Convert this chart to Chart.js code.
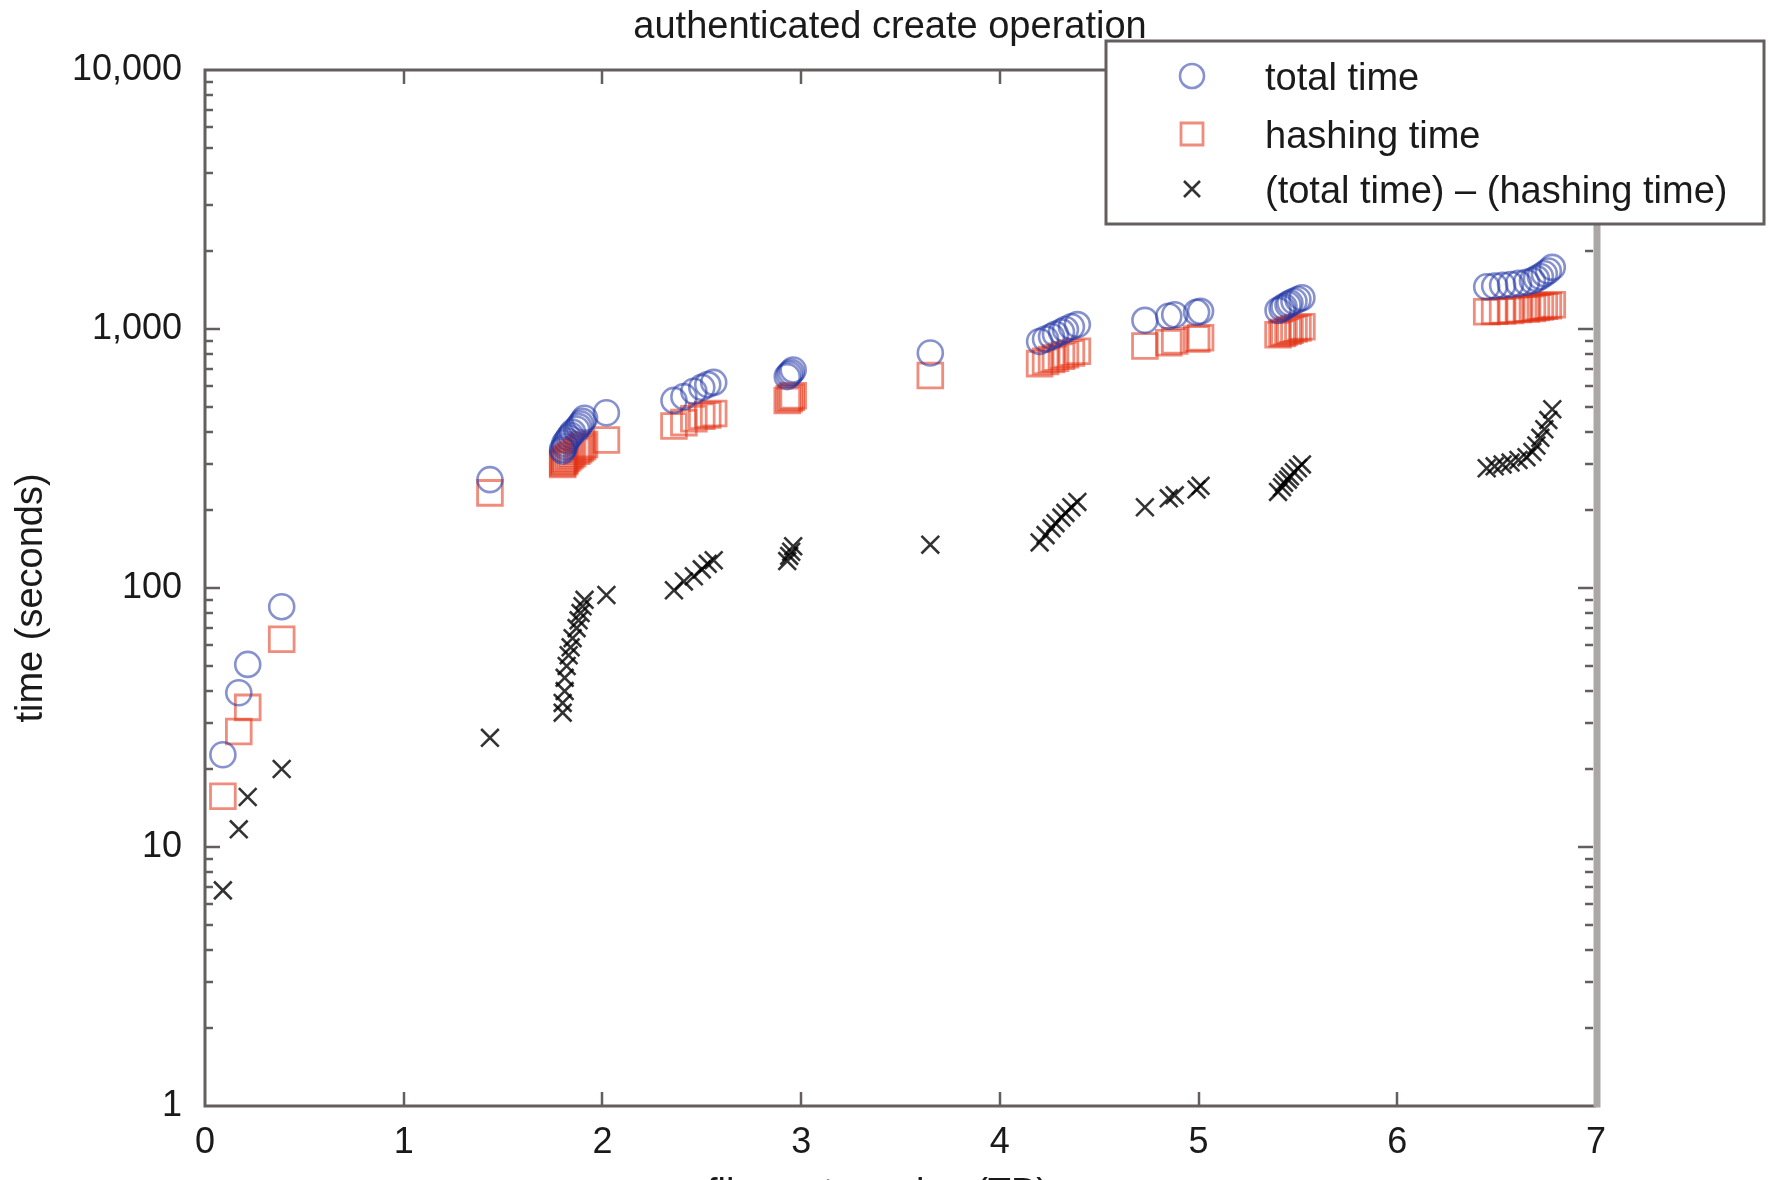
<!DOCTYPE html>
<html>
<head>
<meta charset="utf-8">
<script src="https://cdn.jsdelivr.net/npm/chart.js@4.4.1/dist/chart.umd.min.js"></script>
<style>
html,body{margin:0;padding:0;background:#fff;overflow:hidden}
#wrap{width:1769px;height:1180px;overflow:hidden;position:relative;background:#fff}
canvas{display:block}
</style>
</head>
<body>
<div id="wrap"><canvas id="c" width="1769" height="1180"></canvas></div>
<script>
// ---------- data ----------
const chartTitle = 'authenticated create operation';
const xAxisTitle = 'file system size (TB)';
const yAxisTitle = 'time (seconds)';
const seriesLabels = ['total time', 'hashing time', '(total time) \u2013 (hashing time)'];
const xTickValues = [0, 1, 2, 3, 4, 5, 6, 7];
const yTickValues = [1, 10, 100, 1000, 10000];

const fileSystemSizeTB = [
  0.09, 0.17, 0.215, 0.386,
  1.434,
  1.80, 1.80, 1.81, 1.81, 1.82, 1.83, 1.84, 1.85, 1.87, 1.88, 1.89, 1.90, 1.91,
  2.02,
  2.36, 2.41, 2.46, 2.50, 2.53, 2.56,
  2.93, 2.94, 2.95, 2.96,
  3.65,
  4.20, 4.23, 4.26, 4.28, 4.31, 4.33, 4.36, 4.39,
  4.73, 4.85, 4.88, 4.99, 5.01,
  5.40, 5.42, 5.43, 5.45, 5.46, 5.48, 5.50, 5.52,
  6.45, 6.49, 6.53, 6.57, 6.61, 6.65, 6.68, 6.70, 6.72, 6.74, 6.76, 6.78
];
const totalTime = [
  22.7, 39.4, 50.7, 84.7,
  262,
  338, 344, 352, 361, 370, 380, 389, 399, 410, 420, 430, 440, 452,
  475,
  530, 548, 575, 595, 610, 622,
  655, 668, 680, 695,
  808,
  895, 915, 935, 955, 975, 995, 1020, 1040,
  1080, 1120, 1135, 1160, 1170,
  1180, 1200, 1220, 1240, 1260, 1280, 1300, 1320,
  1455, 1465, 1475, 1485, 1500, 1515, 1535, 1565, 1595, 1635, 1675, 1730
];
const hashingTime = [
  15.7, 27.9, 34.6, 63.4,
  233,
  300, 304, 308, 312, 316, 321, 326, 331, 337, 342, 347, 352, 358,
  373,
  422, 435, 450, 460, 466, 472,
  530, 538, 545, 552,
  661,
  735, 750, 762, 772, 785, 795, 808, 820,
  860, 885, 900, 915, 925,
  950, 960, 970, 980, 990, 1000, 1010, 1020,
  1165, 1170, 1175, 1180, 1190, 1195, 1200, 1210, 1215, 1225, 1230, 1240
];
const totalMinusHashing = [
  6.8, 11.7, 15.6, 20,
  26.4,
  33, 36, 40, 45, 50, 55, 59, 64, 70, 75, 80, 85, 90,
  94,
  98, 106, 111, 118, 124, 128,
  127, 133, 138, 145,
  147,
  150, 160, 170, 178, 187, 195, 205, 215,
  205, 222, 228, 240, 248,
  235, 245, 255, 262, 270, 280, 290, 300,
  290, 295, 300, 305, 312, 320, 335, 355, 380, 410, 445, 490
];

// ---------- styles ----------
const FONT = "'Liberation Sans', Arial, sans-serif";
const circleColor = 'rgba(35,55,165,0.55)';
const squareColor = 'rgba(225,45,15,0.55)';
const crossColor = 'rgba(0,0,0,0.8)';
const axisColor = '#645e5e';

function pts(ys) { return fileSystemSizeTB.map((x, i) => ({x: x, y: ys[i]})); }

const markerDefs = [
  {style: 'circle', radius: 12.5, width: 2.6, color: circleColor, data: totalTime},
  {style: 'rect', radius: 17.5, width: 2.8, color: squareColor, data: hashingTime},
  {style: 'crossRot', radius: 12.5, width: 2.6, color: crossColor, data: totalMinusHashing}
];

const decorPlugin = {
  id: 'decor',
  afterDraw(chart) {
    const {ctx, chartArea: a, scales} = chart;
    const xs = scales.x, ys = scales.y;
    ctx.save();
    ctx.lineCap = 'butt';
    // ticks on y (left and right, inside)
    ctx.strokeStyle = axisColor;
    ctx.lineWidth = 2.5;
    for (let d = 0; d < 4; d++) {
      for (let m = 1; m <= 9; m++) {
        if (m === 1 && d === 0) continue;
        const v = m * Math.pow(10, d);
        const py = Math.round(ys.getPixelForValue(v));
        const len = (m === 1) ? 15 : 8;
        ctx.beginPath();
        ctx.moveTo(a.left, py); ctx.lineTo(a.left + len, py);
        ctx.moveTo(a.right - 3, py); ctx.lineTo(a.right - 3 - len, py);
        ctx.stroke();
      }
    }
    // x ticks top and bottom, inside
    xTickValues.forEach(v => {
      if (v === xs.min || v === xs.max) return;
      const px = Math.round(xs.getPixelForValue(v));
      ctx.beginPath();
      ctx.moveTo(px, a.bottom); ctx.lineTo(px, a.bottom - 14);
      ctx.moveTo(px, a.top); ctx.lineTo(px, a.top + 14);
      ctx.stroke();
    });
    // frame
    ctx.lineWidth = 3;
    ctx.strokeStyle = axisColor;
    ctx.beginPath();
    ctx.moveTo(a.left, a.bottom); ctx.lineTo(a.left, a.top);
    ctx.lineTo(a.right, a.top);
    ctx.moveTo(a.left - 1.5, a.bottom); ctx.lineTo(a.right, a.bottom);
    ctx.stroke();
    ctx.lineWidth = 7;
    ctx.strokeStyle = '#aba7a7';
    ctx.beginPath();
    ctx.moveTo(a.right + 1, a.top); ctx.lineTo(a.right + 1, a.bottom + 1.5);
    ctx.stroke();

    // title
    ctx.fillStyle = '#1a1a1a';
    ctx.font = '38px ' + FONT;
    ctx.textAlign = 'center';
    ctx.textBaseline = 'alphabetic';
    ctx.fillText(chartTitle, 890, 38);

    // x axis title (cut by window bottom as in reference)
    ctx.fillText(xAxisTitle, 878, 1205);

    // y axis title
    ctx.save();
    ctx.translate(32, 598);
    ctx.rotate(-Math.PI / 2);
    ctx.textBaseline = 'middle';
    ctx.fillText(yAxisTitle, 0, 0);
    ctx.restore();

    // legend
    const lx0 = 1106, ly0 = 41, lx1 = 1764, ly1 = 224;
    ctx.fillStyle = '#ffffff';
    ctx.fillRect(lx0, ly0, lx1 - lx0, ly1 - ly0);
    ctx.strokeStyle = axisColor;
    ctx.lineWidth = 3;
    ctx.strokeRect(lx0, ly0, lx1 - lx0, ly1 - ly0);
    const rows = [76, 134, 189];
    chart.data.datasets.forEach((ds, i) => {
      const cy = rows[i], cx = 1192;
      ctx.strokeStyle = ds.borderColor;
      ctx.lineWidth = ds.pointBorderWidth;
      ctx.beginPath();
      if (ds.pointStyle === 'circle') {
        ctx.arc(cx, cy, 12, 0, Math.PI * 2);
      } else if (ds.pointStyle === 'rect') {
        ctx.rect(cx - 11, cy - 11, 22, 22);
      } else {
        ctx.moveTo(cx - 8, cy - 8); ctx.lineTo(cx + 8, cy + 8);
        ctx.moveTo(cx + 8, cy - 8); ctx.lineTo(cx - 8, cy + 8);
      }
      ctx.stroke();
      ctx.fillStyle = '#1a1a1a';
      ctx.font = '38px ' + FONT;
      ctx.textAlign = 'left';
      ctx.textBaseline = 'alphabetic';
      ctx.fillText(ds.label, 1265, cy + 14);
    });
    ctx.restore();
  }
};

new Chart(document.getElementById('c'), {
  type: 'scatter',
  data: {
    datasets: markerDefs.map((m, i) => ({
      label: seriesLabels[i],
      data: pts(m.data),
      pointStyle: m.style,
      pointRadius: m.radius,
      pointHoverRadius: m.radius,
      pointBorderWidth: m.width,
      borderColor: m.color,
      pointBorderColor: m.color,
      pointBackgroundColor: 'rgba(0,0,0,0)',
      backgroundColor: 'rgba(0,0,0,0)',
      showLine: false
    }))
  },
  options: {
    responsive: false,
    animation: false,
    devicePixelRatio: 1,
    events: [],
    layout: {padding: {left: 0, right: 173, top: 70, bottom: 0}},
    plugins: {legend: {display: false}, title: {display: false}, tooltip: {enabled: false}},
    scales: {
      x: {
        type: 'linear', min: 0, max: 7,
        afterBuildTicks: s => { s.ticks = xTickValues.map(v => ({value: v})); },
        afterFit: s => { s.height = 74; },
        grid: {display: false, drawTicks: false},
        border: {display: false},
        ticks: {font: {size: 36, family: FONT}, color: '#1a1a1a', padding: 15, maxRotation: 0, autoSkip: false,
                callback: v => String(v)}
      },
      y: {
        type: 'logarithmic', min: 1, max: 10000,
        afterBuildTicks: s => { s.ticks = yTickValues.map(v => ({value: v, major: true})); },
        afterFit: s => { s.width = 205; },
        grid: {display: false, drawTicks: false},
        border: {display: false},
        ticks: {font: {size: 36, family: FONT}, color: '#1a1a1a', padding: 23, autoSkip: false,
                callback: v => Number(v).toLocaleString('en-US')}
      }
    }
  },
  plugins: [decorPlugin]
});
</script>
</body>
</html>
